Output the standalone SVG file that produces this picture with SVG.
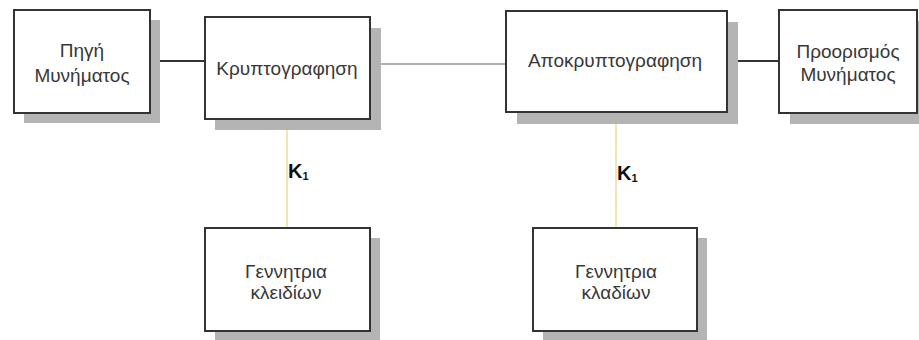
<svg xmlns="http://www.w3.org/2000/svg" width="919" height="340" viewBox="0 0 919 340">
<style>
.shadow{fill:#b4b4b4}
.box{fill:#fff;stroke:#333;stroke-width:2}
.t{font-family:"Liberation Sans",Arial,sans-serif;font-size:19px;fill:#383838;text-anchor:middle}
.k{font-family:"Liberation Sans",Arial,sans-serif;font-size:20px;font-weight:bold;fill:#111}
.ks{font-family:"Liberation Sans",Arial,sans-serif;font-size:11px;font-weight:bold;fill:#111}
.dark{stroke:#333;stroke-width:2;fill:none}
.thin{stroke:#999;stroke-width:1.5;fill:none}
.key{stroke:#e6df9a;stroke-width:1.5;fill:none}
</style>
<rect width="919" height="340" fill="#fff"/>
<g id="connectors">
<line class="dark" x1="150" y1="61" x2="205" y2="61"/>
<line class="thin" x1="370" y1="64" x2="506" y2="64"/>
<line class="dark" x1="727" y1="61" x2="779" y2="61"/>
<line class="key" x1="287" y1="119" x2="287" y2="228"/>
<line class="key" x1="616" y1="112" x2="616" y2="228"/>
<text class="k" x="288" y="178">K<tspan class="ks" dy="2">1</tspan></text>
<text class="k" x="617" y="180">K<tspan class="ks" dy="2">1</tspan></text>
</g>
<g id="source">
<rect class="shadow" x="24" y="20" width="136" height="103"/>
<rect class="box" x="14" y="10" width="136" height="103"/>
<text class="t" x="82" y="57">Πηγή</text>
<text class="t" x="82" y="82">Μυνήματος</text>
</g>
<g id="encrypt">
<rect class="shadow" x="215" y="28" width="166" height="102"/>
<rect class="box" x="205" y="17" width="165" height="102"/>
<text class="t" x="287" y="75">Κρυπτογραφηση</text>
</g>
<g id="decrypt">
<rect class="shadow" x="517" y="22" width="221" height="102"/>
<rect class="box" x="506" y="11" width="221" height="101"/>
<text class="t" x="615" y="67">Αποκρυπτογραφηση</text>
</g>
<g id="destination">
<rect class="shadow" x="790" y="21" width="140" height="103"/>
<rect class="box" x="779" y="10" width="138" height="103"/>
<text class="t" x="848" y="58">Προορισμός</text>
<text class="t" x="848" y="81">Μυνήματος</text>
</g>
<g id="keygen1">
<rect class="shadow" x="215" y="238" width="165" height="103"/>
<rect class="box" x="205" y="228" width="165" height="103"/>
<text class="t" x="286" y="278">Γεννητρια</text>
<text class="t" x="286" y="299">κλειδίων</text>
</g>
<g id="keygen2">
<rect class="shadow" x="543" y="238" width="164" height="103"/>
<rect class="box" x="533" y="228" width="164" height="103"/>
<text class="t" x="616" y="278">Γεννητρια</text>
<text class="t" x="616" y="299">κλαδίων</text>
</g>
</svg>
